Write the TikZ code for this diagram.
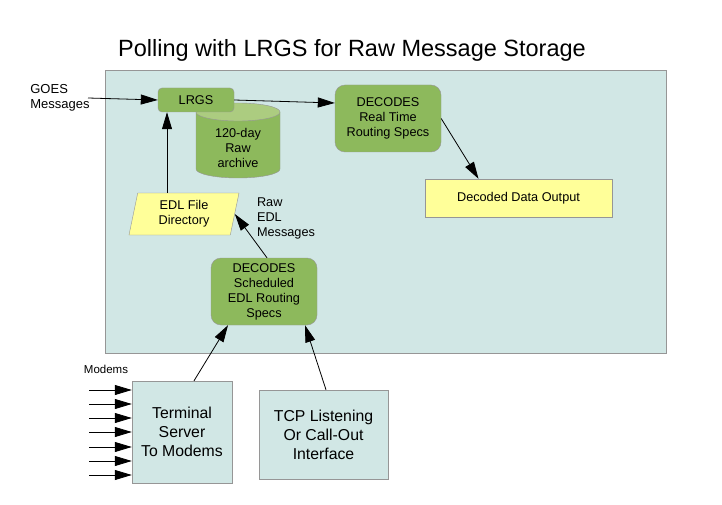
\documentclass[tikz,border=0pt]{standalone}
\usepackage{fontspec}
\setmainfont{Liberation Sans}
\usetikzlibrary{arrows.meta,positioning,shapes.geometric,calc}
\definecolor{boxgreen}{RGB}{141,185,92}
\definecolor{topgreen}{RGB}{172,204,128}
\definecolor{paleyellow}{RGB}{255,255,153}
\definecolor{paleblue}{RGB}{209,231,229}
\definecolor{edgegray}{RGB}{150,150,150}
\tikzset{
  every node/.style={font=\fontsize{12.7}{15}\selectfont},
  arr/.style={-{Triangle[length=17pt,width=10pt]},line width=0.8pt},
  greenbox/.style={draw=edgegray,fill=boxgreen,rounded corners=10pt,align=center,inner sep=0pt},
  yellowbox/.style={draw=edgegray,fill=paleyellow,align=center,inner sep=0pt},
  bluebox/.style={draw=edgegray,fill=paleblue,align=center,inner sep=0pt,
    font=\fontsize{15.8}{19}\selectfont},
}
\begin{document}
\begin{tikzpicture}[x=1pt,y=-1pt]
  \useasboundingbox (0,0) rectangle (722,505);
  \node[font=\fontsize{23.5}{28}\selectfont] (title) at (352,50)
    {Polling with LRGS for Raw Message Storage};
  \draw[edgegray,fill=paleblue] (105,70) rectangle (666,353);
  % archive drum
  \draw[edgegray,fill=boxgreen] (196,112) -- (196,169)
    arc[start angle=180,end angle=360,x radius=42pt,y radius=9pt] -- (280,112) -- cycle;
  \draw[edgegray,fill=topgreen] (238,112) ellipse[x radius=42pt,y radius=9pt];
  \node[align=center] (archive) at (238,148) {120-day\\Raw\\archive};
  %
  \node[greenbox,rounded corners=4pt,minimum width=76pt,minimum height=24pt] (lrgs) at (196,100) {LRGS};
  \node[greenbox,minimum width=106pt,minimum height=67pt] (rt) at (388,118.5)
    {DECODES\\Real Time\\Routing Specs};
  \node[yellowbox,minimum width=187pt,minimum height=38pt] (output) at (518.5,198)
    {Decoded Data Output};
  \node[yellowbox,trapezium,trapezium left angle=72,trapezium right angle=108,
    trapezium stretches body,minimum width=110pt,minimum height=42pt] (edl) at (184,214)
    {EDL File\\Directory};
  \node[greenbox,minimum width=106pt,minimum height=67pt] (sched) at (264,291.5)
    {DECODES\\Scheduled\\EDL Routing\\Specs};
  \node[bluebox,minimum width=100pt,minimum height=102pt] (term) at (182,432)
    {Terminal\\Server\\To Modems};
  \node[bluebox,minimum width=129pt,minimum height=89pt] (tcp) at (323.5,434.5)
    {TCP Listening\\Or Call-Out\\Interface};
  %
  \node[align=left,font=\fontsize{13}{15}\selectfont] (goes) at (60,98) {GOES\\Messages};
  \node[align=left] (rawedl) at (286,218) {Raw\\EDL\\Messages};
  \node[font=\fontsize{11.5}{14}\selectfont] (modems) at (106,369) {Modems};
  \coordinate (goesend) at (88,98);
  %
  \draw[arr] (goesend) -- (lrgs.west);
  \draw[arr] (lrgs.east) -- ([yshift=15.5pt]rt.west);
  \draw[arr] (rt.east) -- ([xshift=-40pt]output.north);
  \draw[arr] ([xshift=-17pt]edl.north) -- ([xshift=-17pt]edl.north |- lrgs.south);
  \draw[arr] ([xshift=3pt]sched.north) -- (edl.east);
  \draw[arr] ([xshift=12pt]term.north) -- ([xshift=-36pt]sched.south);
  \draw[arr] ([xshift=2.5pt]tcp.north) -- ([xshift=41pt]sched.south);
  \foreach \y [count=\i] in {390,404,418,432,447,461,475}{
    \coordinate (m\i) at (89,\y);
    \draw[arr] (m\i) -- (m\i -| term.west);
  }
\end{tikzpicture}
\end{document}
